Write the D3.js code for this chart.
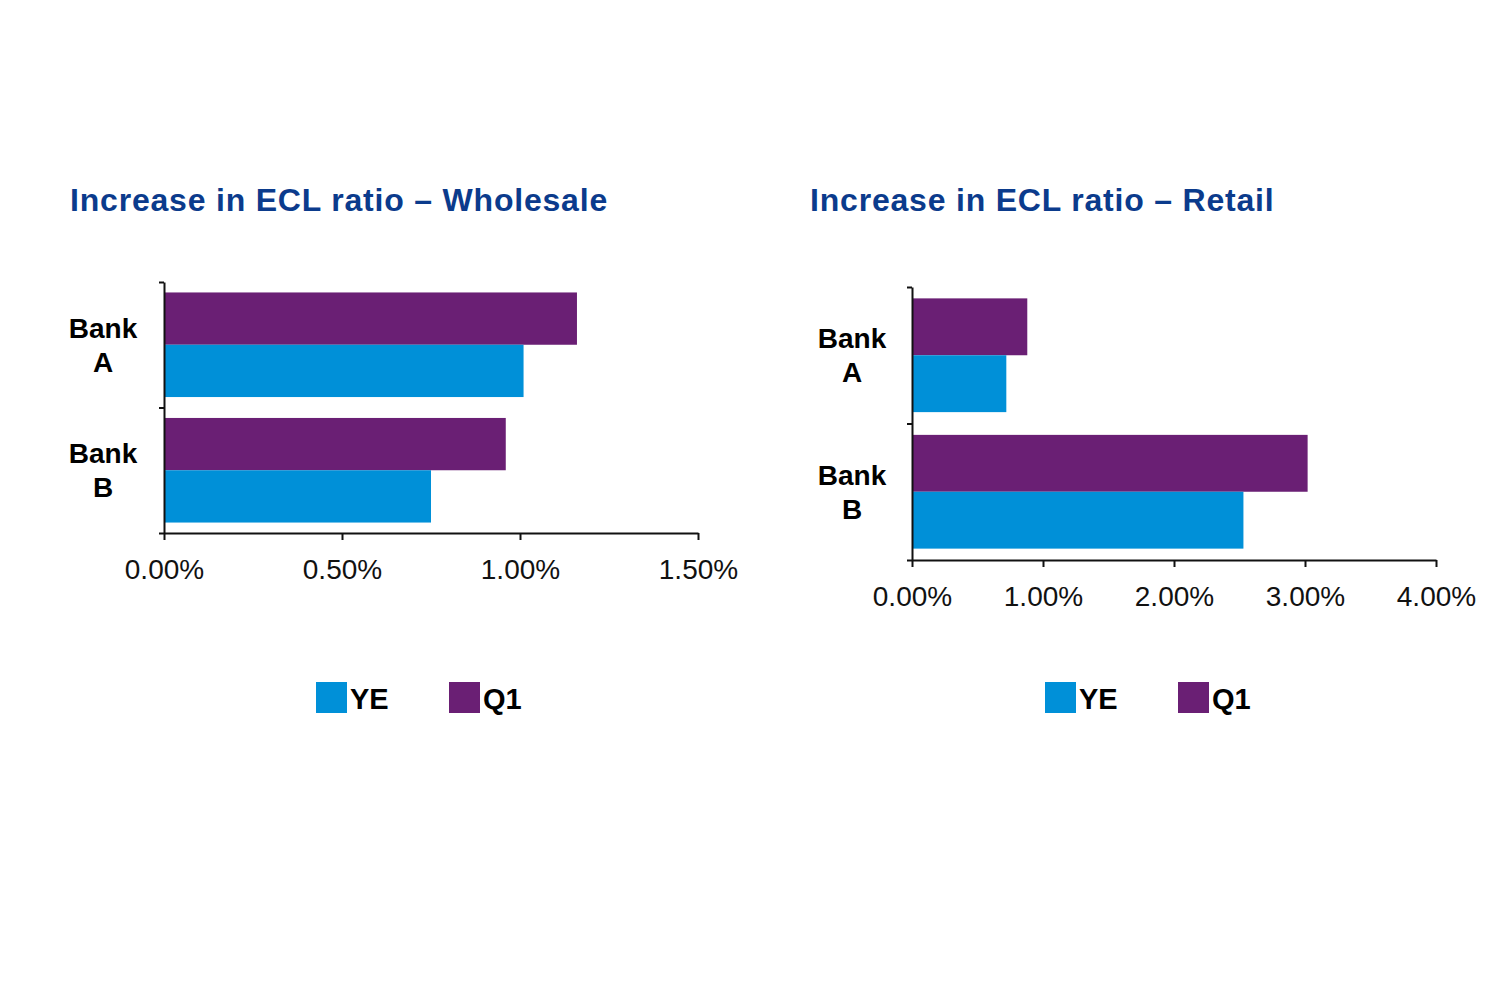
<!DOCTYPE html>
<html>
<head>
<meta charset="utf-8">
<script src="https://cdn.jsdelivr.net/npm/d3@7"></script>
<style>
body { margin: 0; background: #fff; }
svg { font-family: "Liberation Sans", Arial, sans-serif; }
.title { font-weight: bold; font-size: 32px; letter-spacing: 0.8px; fill: #0b3b8c; }
.cat { font-weight: bold; font-size: 28px; fill: #000; }
.tick text { font-size: 28px; fill: #111; }
.axis path, .axis line { stroke: #111; stroke-width: 2px; }
.leg { font-weight: bold; font-size: 29px; fill: #000; }
</style>
</head>
<body>
<script>
// data
var banks = ["A", "B"];
var seriesNames = ["Q1", "YE"];
var legendNames = ["YE", "Q1"];
var colors = { YE: "#0090d8", Q1: "#6a1f74" };

var wholesaleYE = [1.01, 0.75];
var wholesaleQ1 = [1.16, 0.96];
var retailYE = [0.72, 2.53];
var retailQ1 = [0.88, 3.02];

var wholesaleTicks = [0, 0.5, 1.0, 1.5];
var retailTicks = [0, 1, 2, 3, 4];

var svg = d3.select("body").append("svg")
  .attr("width", 1500).attr("height", 1000);

function drawChart(o) {
  var g = svg.append("g");

  g.append("text").attr("class", "title")
    .attr("x", o.titleX).attr("y", 211)
    .text(o.title);

  var x = d3.scaleLinear().domain([0, o.ticks[o.ticks.length - 1]]).range([o.x0, o.x1]);
  var y0 = d3.scaleBand().domain(banks).range([o.y0, o.y1]);
  var y1 = d3.scaleBand().domain(seriesNames).range([0, y0.bandwidth()]).paddingOuter(0.2);
  var yEdge = d3.scaleLinear().domain([0, banks.length]).range([o.y0, o.y1]);

  var rows = banks.map(function(b, i) {
    return { bank: b, Q1: o.q1[i], YE: o.ye[i] };
  });

  var grp = g.selectAll(".bank").data(rows).enter().append("g")
    .attr("transform", function(d) { return "translate(0," + y0(d.bank) + ")"; });

  grp.selectAll("rect")
    .data(function(d) { return seriesNames.map(function(s) { return { s: s, v: d[s] }; }); })
    .enter().append("rect")
    .attr("x", x(0))
    .attr("y", function(d) { return y1(d.s); })
    .attr("height", y1.bandwidth())
    .attr("width", function(d) { return x(d.v) - x(0); })
    .attr("fill", function(d) { return colors[d.s]; });

  // category labels, two lines
  grp.each(function(d) {
    var t = d3.select(this).append("text").attr("class", "cat")
      .attr("text-anchor", "middle");
    var c = y0.bandwidth() / 2;
    t.append("tspan").attr("x", o.labelX).attr("y", c - 7).text("Bank");
    t.append("tspan").attr("x", o.labelX).attr("y", c + 27).text(d.bank);
  });

  g.append("g").attr("class", "axis")
    .attr("transform", "translate(0," + o.y1 + ")")
    .call(d3.axisBottom(x).tickValues(o.ticks)
      .tickFormat(function(d) { return d3.format(".2f")(d) + "%"; })
      .tickSize(7).tickSizeOuter(0).tickPadding(19));

  g.append("g").attr("class", "axis")
    .attr("transform", "translate(" + o.x0 + ",0)")
    .call(d3.axisLeft(yEdge).tickValues(d3.range(banks.length + 1))
      .tickFormat("").tickSize(5).tickSizeOuter(0));

  // legend
  var leg = g.selectAll(".legitem").data(legendNames).enter().append("g")
    .attr("transform", function(d, i) { return "translate(" + (o.legX + i * 133) + ",682)"; });
  leg.append("rect").attr("width", 31).attr("height", 31)
    .attr("fill", function(d) { return colors[d]; });
  leg.append("text").attr("class", "leg").attr("x", 34).attr("y", 27).text(function(d) { return d; });
}

drawChart({
  title: "Increase in ECL ratio \u2013 Wholesale", titleX: 70,
  x0: 164, x1: 698, y0: 282, y1: 533, labelX: 103,
  ticks: wholesaleTicks, ye: wholesaleYE, q1: wholesaleQ1, legX: 316
});

drawChart({
  title: "Increase in ECL ratio \u2013 Retail", titleX: 810,
  x0: 912, x1: 1436, y0: 287, y1: 560, labelX: 852,
  ticks: retailTicks, ye: retailYE, q1: retailQ1, legX: 1045
});
</script>
</body>
</html>
